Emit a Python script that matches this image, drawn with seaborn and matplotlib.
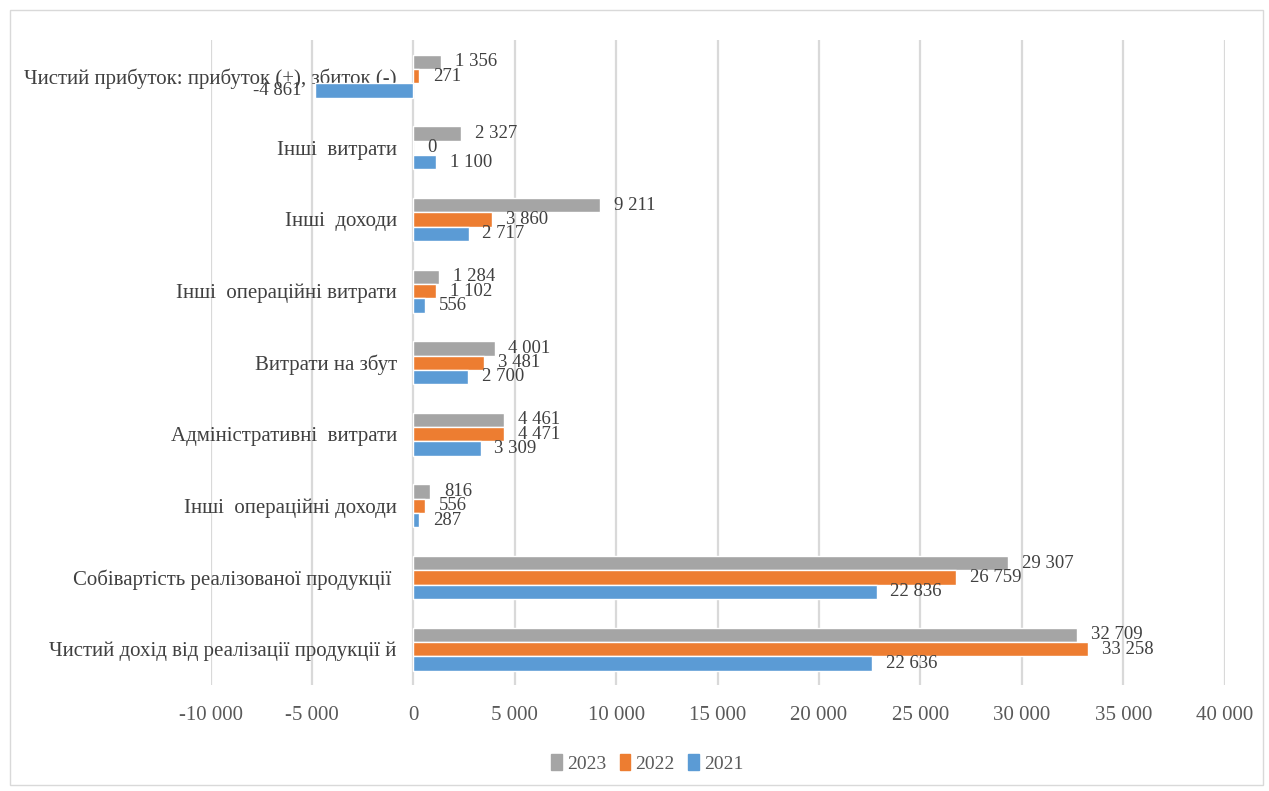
import matplotlib.pyplot as plt
import matplotlib.patches as mpatches
import pandas as pd
import seaborn as sns

categories = [
    "Чистий прибуток: прибуток (+), збиток (-)",
    "Інші  витрати",
    "Інші  доходи",
    "Інші  операційні витрати",
    "Витрати на збут",
    "Адміністративні  витрати",
    "Інші  операційні доходи",
    "Собівартість реалізованої продукції ",
    "Чистий дохід від реалізації продукції й",
]
years = ["2023", "2022", "2021"]
values_2023 = [1356, 2327, 9211, 1284, 4001, 4461, 816, 29307, 32709]
values_2022 = [271, 0, 3860, 1102, 3481, 4471, 556, 26759, 33258]
values_2021 = [-4861, 1100, 2717, 556, 2700, 3309, 287, 22836, 22636]
x_ticks = list(range(-10000, 40001, 5000))

colors = {"2023": "#A5A5A5", "2022": "#ED7D31", "2021": "#5B9BD5"}


def fmt(v):
    return f"{v:,.0f}".replace(",", " ")


df = pd.DataFrame(
    {
        "category": categories * 3,
        "year": ["2023"] * 9 + ["2022"] * 9 + ["2021"] * 9,
        "value": values_2023 + values_2022 + values_2021,
    }
)

sns.set_style("white")
plt.rcParams["font.family"] = ["Liberation Serif", "DejaVu Serif"]

fig = plt.figure(figsize=(12.69, 7.91), dpi=100)
ax = fig.add_axes([0.166, 0.134, 0.799, 0.815])

sns.barplot(
    data=df,
    y="category",
    x="value",
    hue="year",
    order=categories,
    hue_order=years,
    palette=colors,
    orient="h",
    width=0.6,
    saturation=1,
    legend=False,
    ax=ax,
)

# value labels at the bar ends
for container in ax.containers:
    ax.bar_label(
        container,
        labels=[fmt(v) for v in container.datavalues],
        padding=10,
        fontsize=13.5,
        color="#404040",
    )

ax.set_xlim(-10000, 40000)
ax.set_ylim(8.5, -0.5)
ax.set_xticks(x_ticks)
ax.set_xticklabels([fmt(t) for t in x_ticks], fontsize=15, color="#595959")
ax.tick_params(axis="x", length=0, pad=15)
ax.grid(axis="x", color="#D9D9D9", linewidth=1.6)
ax.set_axisbelow(True)

# category labels sit next to the zero line, like in Excel
ax.spines["left"].set_position(("data", 0))
for side in ["left", "right", "top", "bottom"]:
    ax.spines[side].set_visible(False)
ax.tick_params(axis="y", length=0, pad=12, labelsize=15, labelcolor="#404040")
ax.set_xlabel("")
ax.set_ylabel("")

handles = [mpatches.Patch(color=colors[y], label=y) for y in years]
fig.legend(
    handles=handles,
    loc="center",
    bbox_to_anchor=(0.51, 0.035),
    ncol=3,
    frameon=False,
    fontsize=14,
    handlelength=0.55,
    handleheight=0.9,
    handletextpad=0.25,
    columnspacing=0.7,
    labelcolor="#595959",
)

fig.add_artist(
    mpatches.Rectangle(
        (0.008, 0.008), 0.987, 0.979,
        transform=fig.transFigure, fill=False, edgecolor="#D9D9D9", linewidth=1,
    )
)

plt.savefig("out.png", dpi=100)
